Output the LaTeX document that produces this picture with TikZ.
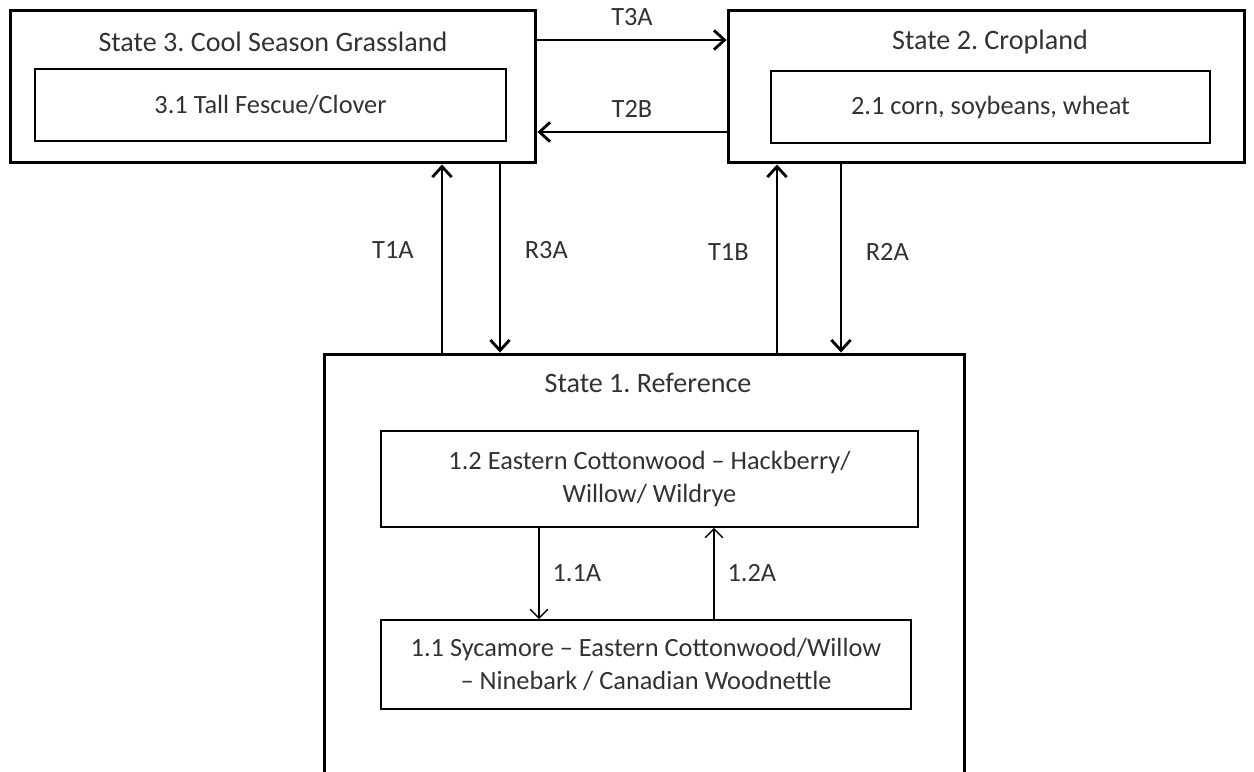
\documentclass[tikz,border=0pt]{standalone}
\usepackage{fontspec}
\setmainfont{Carlito}
\frenchspacing
\usetikzlibrary{arrows.meta}
\definecolor{txtgray}{RGB}{50, 50, 50}

\begin{document}
\begin{tikzpicture}[x=0.02cm, y=-0.02cm,
    statebox/.style={draw, line width=1.7pt, inner sep=0pt},
    phasebox/.style={draw, line width=1.1pt, inner sep=0pt, align=center, text=txtgray, font=\fontsize{15}{19}\selectfont},
    titletext/.style={text=txtgray, font=\fontsize{16}{19}\selectfont},
    lbl/.style={text=txtgray, font=\fontsize{15}{18}\selectfont},
    trans/.style={line width=1.6pt, -{Straight Barb[length=6pt, width=11pt, line width=1.6pt]}},
    pathway/.style={line width=0.8pt, -{Straight Barb[length=5pt, width=10pt, line width=0.8pt]}}]
  \useasboundingbox (0,0) rectangle (1254,771);
  \clip (0,0) rectangle (1254,771);

  % State 3: cool season grassland
  \node[statebox, minimum width=10.52cm, minimum height=3.06cm] (s3) at (273, 86.5) {};
  \node[titletext] (s3t) at (273, 42) {State 3. Cool Season Grassland};
  \node[phasebox, minimum width=9.42cm, minimum height=1.44cm] (p31) at (270.5, 105) {3.1 Tall Fescue/Clover};

  % State 2: cropland
  \node[statebox, minimum width=10.34cm, minimum height=3.06cm] (s2) at (986.5, 86.5) {};
  \node[titletext] (s2t) at (990, 42) {State 2. Cropland};
  \node[phasebox, minimum width=8.78cm, minimum height=1.44cm] (p21) at (990.5, 107) {2.1 corn, soybeans, wheat};

  % State 1: reference (runs off the bottom)
  \node[statebox, minimum width=12.82cm, minimum height=8.92cm] (s1) at (644.5, 577) {};
  \node[titletext] (s1t) at (648, 383) {State 1. Reference};
  \node[phasebox, minimum width=10.74cm, minimum height=1.92cm] (p12) at (649.5, 479)
    {1.2 Eastern Cottonwood -- Hackberry/\\Willow/ Wildrye};
  \node[phasebox, minimum width=10.6cm, minimum height=1.78cm] (p11) at (646, 664.5)
    {1.1 Sycamore -- Eastern Cottonwood/Willow\\-- Ninebark / Canadian Woodnettle};

  % Transitions between states
  \draw[trans] (s3.east |- 0,40) -- (s2.west |- 0,40) node[lbl, midway, above=4pt] {T3A};
  \draw[trans] (s2.west |- 0,132) -- (s3.east |- 0,132) node[lbl, midway, above=4pt] {T2B};
  \draw[trans] (s1.north -| 442,0) -- (s3.south -| 442,0) node[lbl, pos=0.545, left=12pt] {T1A};
  \draw[trans] (s3.south -| 500,0) -- (s1.north -| 500,0) node[lbl, pos=0.455, right=10pt] {R3A};
  \draw[trans] (s1.north -| 777,0) -- (s2.south -| 777,0) node[lbl, pos=0.535, left=12pt] {T1B};
  \draw[trans] (s2.south -| 841,0) -- (s1.north -| 841,0) node[lbl, pos=0.465, right=10pt] {R2A};

  % Community pathways
  \draw[pathway] (p12.south -| 539,0) -- (p11.north -| 539,0) node[lbl, midway, right=4pt] {1.1A};
  \draw[pathway] (p11.north -| 714,0) -- (p12.south -| 714,0) node[lbl, midway, right=4pt] {1.2A};
\end{tikzpicture}
\end{document}
